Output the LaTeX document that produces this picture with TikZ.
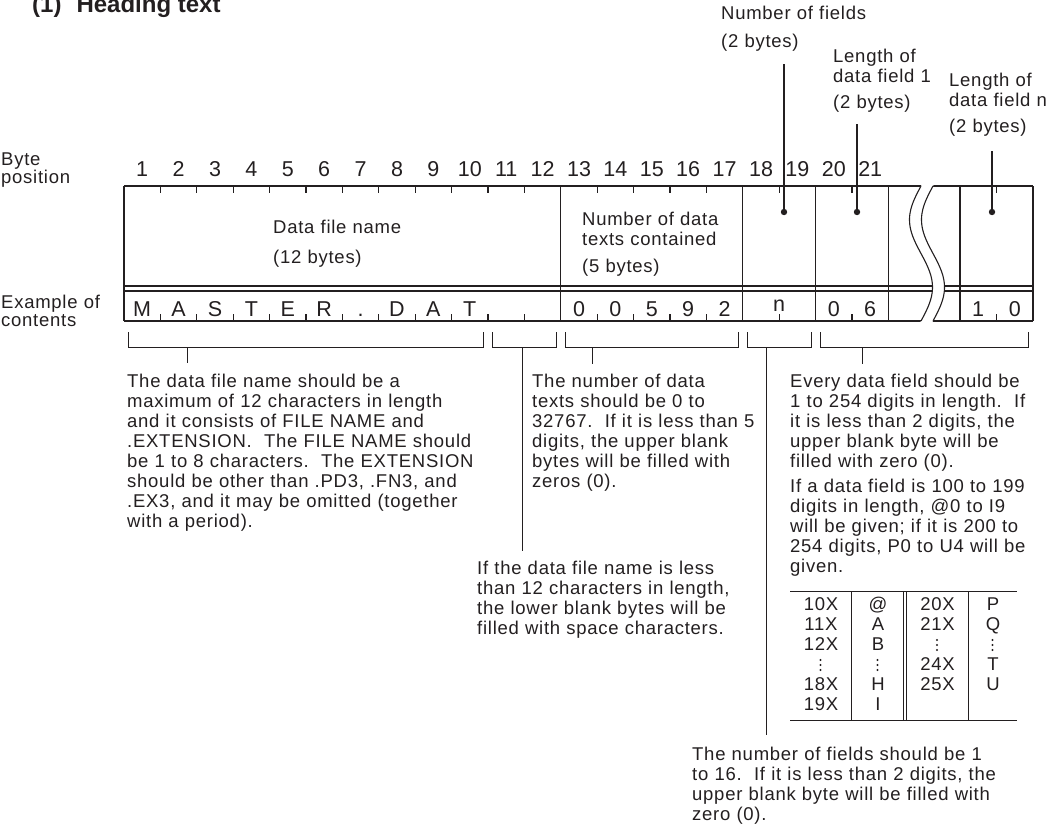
\documentclass[tikz,border=0pt]{standalone}
\usepackage{fontspec}
\setmainfont{Liberation Sans}[LetterSpace=4]
\newfontfamily\plainsans{Liberation Sans}
\definecolor{ink}{HTML}{231F20}
\tikzset{
  txt/.style={anchor=base west, inner sep=0pt, text width=440pt, align=left, text=ink, font=\fontsize{18.5}{20}\selectfont},
  sidelbl/.style={txt, font=\fontsize{18.5}{18}\selectfont},
  bytenum/.style={anchor=base, inner sep=0pt, text=ink, font=\plainsans\fontsize{21.5}{22}\selectfont},
  tcell/.style={anchor=base, inner sep=0pt, text=ink, font=\fontsize{18.5}{20}\selectfont},
  boxline/.style={draw=ink, line width=1.1pt},
  brk/.style={draw=ink, line width=1pt},
}
\begin{document}
\begin{tikzpicture}[x=1pt,y=-1pt]
\useasboundingbox (0,0) rectangle (1058,825);

% heading
\node[anchor=base west, inner sep=0pt, text=ink, font=\plainsans\bfseries\fontsize{24}{26}\selectfont] (head) at (32,12.7) {(1)\hspace{15pt}Heading text};

% top annotations
\node[txt] (nf) at (721,19.5) {Number of fields\\[7.5pt](2 bytes)};
\node[txt] (lf1) at (833,62) {Length of\\data field 1\\[6pt](2 bytes)};
\node[txt] (lfn) at (949,86) {Length of\\data field n\\[6pt](2 bytes)};

% side labels
\node[sidelbl] (bp) at (1,165) {Byte\\position};
\node[sidelbl] (ex) at (1,308) {Example of\\contents};

% byte numbers
\foreach \k in {1,...,21} \node[bytenum] (n\k) at ({124+36.4*(\k-0.5)},176) {\k};

% frame
\foreach \yy in {186,286,291,321} \draw[boxline] (124,\yy) -- (1033,\yy);
\foreach \xx in {124,560.8,742.8,815.6,888.4,960,1033} \draw[boxline] (\xx,186) -- (\xx,321);
\foreach \k in {1,...,11,13,14,15,16,18,20} {
  \draw[boxline] ({124+36.4*\k},186) -- ++(0,7);
  \draw[boxline] ({124+36.4*\k},321) -- ++(0,-7);
}
\draw[boxline] (996.5,186) -- ++(0,7);
\draw[boxline] (996.5,321) -- ++(0,-7);

% break
\fill[white] plot[domain=-0.012:1.012,samples=60] ({921-11.5*sin(360*\x)},{186+135*\x})
  -- plot[domain=1.012:-0.012,samples=60] ({933-11.5*sin(360*\x)},{186+135*\x}) -- cycle;
\draw[boxline] plot[domain=0:1,samples=60,smooth] ({921-11.5*sin(360*\x)},{186+135*\x});
\draw[boxline] plot[domain=0:1,samples=60,smooth] ({933-11.5*sin(360*\x)},{186+135*\x});

% field titles
\node[txt] (dfn) at (273,233) {Data file name\\[10pt](12 bytes)};
\node[txt] (ndt) at (582,225) {Number of data\\texts contained\\[7pt](5 bytes)};

% example contents
\foreach \c [count=\k] in {M,A,S,T,E,R,.,D,A,T} \node[bytenum] (e\k) at ({124+36.4*(\k-0.5)},316.5) {\c};
\foreach \c [count=\k from 13] in {0,0,5,9,2} \node[bytenum] (e\k) at ({124+36.4*(\k-0.5)},316.5) {\c};
\node[bytenum] (e18) at (779.2,311) {n};
\node[bytenum] (e20) at ({124+36.4*19.5},316.5) {0};
\node[bytenum] (e21) at ({124+36.4*20.5},316.5) {6};
\node[bytenum] (e22) at (978.2,316.5) {1};
\node[bytenum] (e23) at (1014.8,316.5) {0};

% pointer lines with dots
\coordinate (p1t) at (784,64);  \coordinate (p1b) at (784,212);
\coordinate (p2t) at (857,124); \coordinate (p2b) at (857,212);
\coordinate (p3t) at (992,151); \coordinate (p3b) at (992,212);
\draw[boxline] (p1t) -- (p1b); \fill[ink] (p1b) circle[radius=3.2pt];
\draw[boxline] (p2t) -- (p2b); \fill[ink] (p2b) circle[radius=3.2pt];
\draw[boxline] (p3t) -- (p3b); \fill[ink] (p3b) circle[radius=3.2pt];

% brackets
\draw[brk] (128,332) -- (128,347) -- (483,347) -- (483,332);
\draw[brk] (492,332) -- (492,347) -- (556,347) -- (556,332);
\draw[brk] (565,332) -- (565,347) -- (738,347) -- (738,332);
\draw[brk] (747,332) -- (747,347) -- (811,347) -- (811,332);
\draw[brk] (820,332) -- (820,347) -- (1028,347) -- (1028,332);

% explanation texts
\node[txt] (ta) at (127,387) {The data file name should be a\\
maximum of 12 characters in length\\
and it consists of FILE NAME and\\
.EXTENSION.\ \ The FILE NAME should\\
be 1 to 8 characters.\ \ The EXTENSION\\
should be other than .PD3, .FN3, and\\
.EX3, and it may be omitted (together\\
with a period).};
\node[txt] (tb) at (532,387) {The number of data\\
texts should be 0 to\\
32767.\ \ If it is less than 5\\
digits, the upper blank\\
bytes will be filled with\\
zeros (0).};
\node[txt] (tc) at (477,574) {If the data file name is less\\
than 12 characters in length,\\
the lower blank bytes will be\\
filled with space characters.};
\node[txt] (td) at (790,387) {Every data field should be\\
1 to 254 digits in length.\ \ If\\
it is less than 2 digits, the\\
upper blank byte will be\\
filled with zero (0).\\[5pt]
If a data field is 100 to 199\\
digits in length, @0 to I9\\
will be given; if it is 200 to\\
254 digits, P0 to U4 will be\\
given.};
\node[txt] (te) at (692,760) {The number of fields should be 1\\
to 16.\ \ If it is less than 2 digits, the\\
upper blank byte will be filled with\\
zero (0).};

% stems from brackets to texts
\coordinate (s1) at (187,347); \coordinate (s1e) at (187,363);
\coordinate (s2) at (522,347); \coordinate (s2e) at (522,551);
\coordinate (s3) at (592,347); \coordinate (s3e) at (592,364);
\coordinate (s4) at (766.5,347); \coordinate (s4e) at (766.5,735);
\coordinate (s5) at (862,347); \coordinate (s5e) at (862,364);
\draw[brk] (s1) -- (s1e);
\draw[brk] (s2) -- (s2e);
\draw[brk] (s3) -- (s3e);
\draw[brk] (s4) -- (s4e);
\draw[brk] (s5) -- (s5e);

% table
\draw[brk] (790,591) -- (1017,591);
\draw[brk] (790,720) -- (1017,720);
\foreach \xx in {851,903.5,906.5,968} \draw[brk] (\xx,591) -- (\xx,720);
\foreach \t [count=\r] in {10X,11X,12X,,18X,19X} \node[tcell] (ca\r) at (821,{590+20*\r}) {\t};
\foreach \t [count=\r] in {@,A,B,,H,I} \node[tcell] (cb\r) at (878,{590+20*\r}) {\t};
\foreach \t [count=\r] in {20X,21X,,24X,25X} \node[tcell] (cc\r) at (937.5,{590+20*\r}) {\t};
\foreach \t [count=\r] in {P,Q,,T,U} \node[tcell] (cd\r) at (993,{590+20*\r}) {\t};
% vertical ellipses
\foreach \xx/\b in {820.5/670,877.5/670,937/650,992.5/650}
  \foreach \d in {0,5,10} \fill[ink] (\xx,{\b-\d}) circle[radius=1.15pt];
\end{tikzpicture}
\end{document}
